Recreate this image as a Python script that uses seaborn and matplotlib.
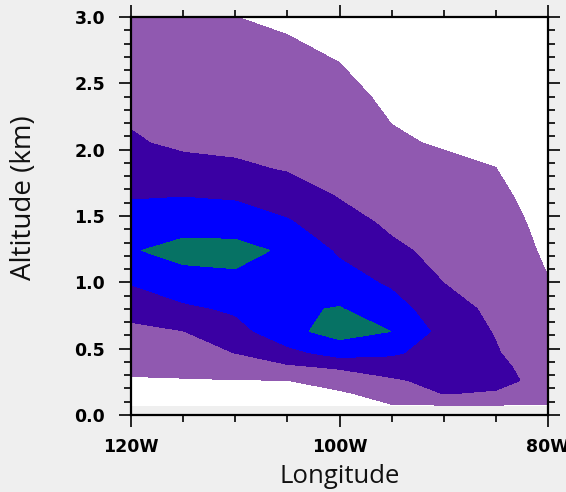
import numpy as np
import seaborn as sns
import matplotlib.pyplot as plt
from matplotlib.ticker import MultipleLocator, FixedLocator

# grid: longitude (deg W) and model altitude levels (km)
lon_w = [120, 115, 110, 105, 100, 95, 90, 85, 80]
alt_km = [0.07, 0.16, 0.26, 0.36, 0.47, 0.63, 0.80, 1.00, 1.24,
          1.45, 1.65, 1.85, 2.05, 2.40, 2.80, 3.20]

# values per longitude column, bottom to top
col_120w = [0.50, 0.70, 0.93, 1.16, 1.42, 1.79, 2.31, 3.07, 3.95, 3.41, 2.93, 2.56, 2.12, 1.70, 1.50, 1.30]
col_115w = [0.50, 0.71, 0.95, 1.23, 1.54, 1.98, 2.77, 3.75, 4.20, 3.75, 2.97, 2.38, 1.80, 1.60, 1.42, 1.25]
col_110w = [0.50, 0.72, 0.97, 1.45, 2.02, 2.59, 3.17, 3.85, 4.20, 3.70, 2.84, 2.15, 1.80, 1.56, 1.19, 0.82]
col_105w = [0.50, 0.74, 0.99, 1.83, 2.69, 3.75, 3.88, 3.93, 3.90, 3.11, 2.47, 1.95, 1.76, 1.43, 1.06, 0.70]
col_100w = [0.40, 0.85, 1.44, 2.10, 3.45, 4.35, 4.05, 3.47, 2.84, 2.35, 1.95, 1.76, 1.57, 1.23, 0.87, 0.55]
col_095w = [0.95, 1.38, 1.86, 2.47, 3.15, 3.995, 3.44, 2.83, 2.17, 1.84, 1.62, 1.40, 1.10, 0.85, 0.64, 0.40]
col_090w = [0.95, 2.02, 2.30, 2.50, 2.55, 2.66, 2.36, 1.99, 1.76, 1.55, 1.36, 1.20, 0.93, 0.77, 0.54, 0.30]
col_085w = [0.95, 1.89, 2.30, 2.35, 2.08, 1.93, 1.80, 1.65, 1.47, 1.31, 1.15, 1.01, 0.88, 0.67, 0.44, 0.20]
col_080w = [0.95, 1.50, 1.65, 1.25, 1.20, 1.15, 1.10, 1.03, 0.87, 0.78, 0.70, 0.60, 0.50, 0.40, 0.25, 0.10]

levels = [0, 1, 2, 3, 4, 5]
fill_colors = ["#ffffff", "#9059b0", "#3a00a3", "#0000ff", "#067264"]

x_ticks = [120, 100, 80]
x_ticklabels = ["120W", "100W", "80W"]

sns.set_theme(style="ticks")
plt.rcParams['font.family'] = ['DejaVu Sans']

bg = "#efefef"
fig = plt.figure(figsize=(5.66, 4.92), dpi=100, facecolor=bg)
ax = fig.add_axes([131 / 566, 1 - 415 / 492, 417 / 566, 398 / 492])
ax.set_facecolor(bg)

field = np.array([col_120w, col_115w, col_110w, col_105w, col_100w,
                  col_095w, col_090w, col_085w, col_080w]).T
ax.contourf(lon_w, alt_km, field, levels=levels, colors=fill_colors)

ax.set_xlim(120, 80)
ax.set_ylim(0, 3)

ax.xaxis.set_major_locator(FixedLocator(x_ticks))
ax.set_xticklabels(x_ticklabels)
ax.xaxis.set_minor_locator(MultipleLocator(5))
ax.yaxis.set_major_locator(MultipleLocator(0.5))
ax.yaxis.set_minor_locator(MultipleLocator(0.1))
ax.yaxis.set_major_formatter(plt.FormatStrFormatter("%.1f"))

ax.tick_params(which="both", direction="out", top=True, right=True,
               color="black", width=1.2)
ax.tick_params(which="major", length=8.6)
ax.tick_params(which="minor", length=5)
ax.tick_params(axis="y", which="major", pad=10)
ax.tick_params(axis="x", which="major", pad=8)
for lab in ax.get_xticklabels() + ax.get_yticklabels():
    lab.set_fontsize(12.5)
    lab.set_fontweight("bold")
    lab.set_color("black")

for sp in ax.spines.values():
    sp.set_linewidth(1.6)
    sp.set_color("black")

ax.set_xlabel("Longitude", fontsize=18.5, family=["Open Sans", "DejaVu Sans"], color="#111111")
ax.set_ylabel("Altitude (km)", fontsize=20, family=["Open Sans", "DejaVu Sans"], color="#111111")
ax.xaxis.set_label_coords(0.5, -0.122)
ax.yaxis.set_label_coords(-0.222, 0.545)

fig.savefig("out.png", dpi=100, facecolor=bg)
